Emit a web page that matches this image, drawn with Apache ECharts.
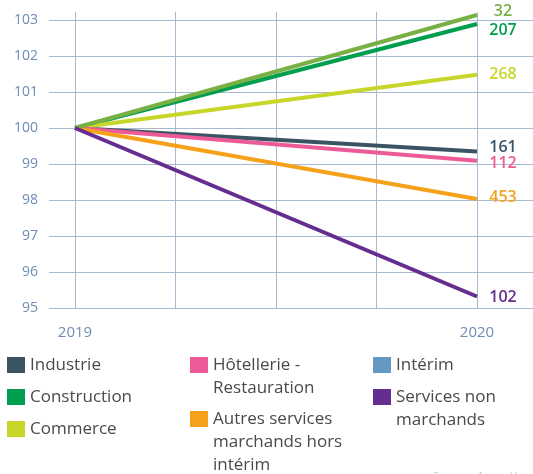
<!DOCTYPE html>
<html>
<head>
<meta charset="utf-8">
<script src="https://cdn.jsdelivr.net/npm/echarts@6/dist/echarts.min.js"></script>
<style>
    html, body { margin: 0; padding: 0; background: #fff; }
    #chart { width: 533px; height: 474px; }
</style>
</head>
<body>
<div id="chart"></div>
<script>
// data
var years = [2019, 2020];
var baseValue = 100;
var seriesNames = ['Industrie', 'Construction', 'Commerce', 'Hôtellerie - Restauration',
    'Autres services marchands hors intérim', 'Intérim', 'Services non marchands'];
var values2020 = [99.35, 102.89, 101.48, 99.09, 98.03, 103.14, 95.32];
var endLabels = ['161', '207', '268', '112', '453', '32', '102'];
var legendLabels = ['Industrie', 'Construction', 'Commerce', 'Hôtellerie -\nRestauration',
    'Autres services\nmarchands hors\nintérim', 'Intérim', 'Services non\nmarchands'];
var sourceText = 'Source : Acoss-Urssaf';
var yTicks = { min: 95, max: 103, step: 1 };
var xGridStep = 0.25;

// styles
var lineColors = ['#3b5463', '#009e4f', '#c8d62b', '#ec5b97', '#f6a11c', '#78b043', '#652d8f'];
var legendColors = ['#3b5463', '#009e4f', '#c8d62b', '#ec5b97', '#f6a11c', '#6699c2', '#652d8f'];
var labelOffsets = [[0, -4], [0, 6], [0, 0], [0, 2.5], [0, -1.5], [0, -4], [0, 1]];
// legend layout: [left, icon centre y]
var legendPos = [[7, 365], [7, 397], [7, 429], [190, 365], [190, 419], [373, 365], [373, 397]];
var LH = 23;
var gridCol = '#a9b9d4';
var axisTxt = '#6f8cb6';
var font = 'Open Sans';

var myChart = echarts.init(document.getElementById('chart'));

var series = [];
var legends = [];
function each(arr, fn) { for (var i = 0; i < arr.length; i++) fn(arr[i], i); }

each(seriesNames, function (name, i) {
    series.push({
        name: name,
        type: 'line',
        xAxisIndex: 1,
        yAxisIndex: 1,
        symbol: 'none',
        silent: true,
        color: legendColors[i],
        lineStyle: { color: lineColors[i], width: 4 },
        data: [[years[0], baseValue], [years[1], values2020[i]]],
        endLabel: {
            show: true,
            distance: 26,
            align: 'center',
            offset: labelOffsets[i],
            color: lineColors[i],
            fontFamily: font,
            fontSize: 16,
            fontWeight: 600,
            formatter: function () { return endLabels[i]; }
        }
    });

    // text is centred on the icon, so pad with empty lines on top
    // to bring the first line level with the square
    var n = legendLabels[i].split('\n').length;
    var padded = new Array(n).join('\n') + legendLabels[i];
    legends.push({
        left: legendPos[i][0],
        top: legendPos[i][1] - (2 * n - 1) * LH / 2,
        padding: 0,
        icon: 'rect',
        itemWidth: 18,
        itemHeight: 16,
        selectedMode: false,
        itemStyle: { color: legendColors[i], borderWidth: 0 },
        textStyle: {
            color: '#4a4a4a',
            fontFamily: font,
            fontSize: 17,
            lineHeight: LH
        },
        formatter: function () { return padded; },
        data: [name]
    });
});

var option = {
    animation: false,
    backgroundColor: '#fff',
    grid: [
        { left: 49, right: 0, top: 20, bottom: 166 },
        { left: 75, right: 56, top: 12, bottom: 166 }
    ],
    xAxis: [
        { type: 'value', gridIndex: 0, show: false, min: 0, max: 1 },
        {
            type: 'value', gridIndex: 1,
            min: years[0], max: years[1], interval: xGridStep,
            axisLine: { show: false },
            axisTick: { show: false },
            splitLine: { show: true, lineStyle: { color: gridCol, width: 1 } },
            axisLabel: {
                margin: 17,
                color: axisTxt,
                fontFamily: font,
                fontSize: 15,
                formatter: function (v) { return years.indexOf(v) >= 0 ? String(v) : ''; }
            }
        }
    ],
    yAxis: [
        {
            type: 'value', gridIndex: 0,
            min: yTicks.min, max: yTicks.max, interval: yTicks.step,
            axisLine: { show: false },
            axisTick: { show: false },
            splitLine: { show: true, lineStyle: { color: gridCol, width: 1 } },
            axisLabel: { margin: 11, color: axisTxt, fontFamily: font, fontSize: 14 }
        },
        {
            type: 'value', gridIndex: 1, show: false,
            min: yTicks.min, max: yTicks.max + 8 / 36
        }
    ],
    graphic: [{
        type: 'text',
        left: 433,
        top: 471,
        silent: true,
        style: { text: sourceText, fill: '#c2c9d2', font: '11px "Open Sans"' }
    }],
    legend: legends,
    series: series
};
myChart.setOption(option);
</script>
</body>
</html>
